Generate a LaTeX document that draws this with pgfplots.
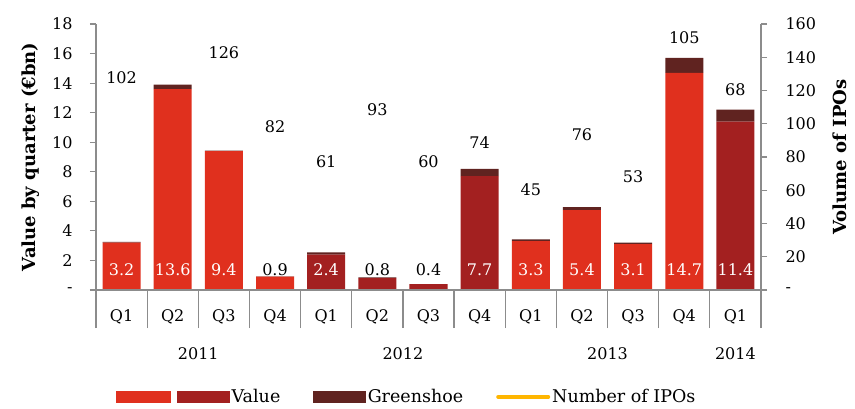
\documentclass[border=0pt]{standalone}
\usepackage{pgfplots}
\pgfplotsset{compat=1.18}
\usepackage{pgfplotstable}
\usepackage{fontspec}
\setmainfont{DejaVu Serif}
\definecolor{pwcred}{HTML}{E0301E}
\definecolor{pwcdark}{HTML}{A32020}
\definecolor{pwcgreen}{HTML}{602320}
\definecolor{pwcyellow}{HTML}{FFB600}
\definecolor{axgray}{HTML}{8C8C8C}
\newcommand\tfont{\fontsize{16}{19}\selectfont}
\newcommand\lfont{\fontsize{18}{21}\selectfont}
\newcommand\gfont{\fontsize{17.5}{21}\selectfont}

\pgfplotstableread{
x light dark green
0 3.2 0 0.05
1 13.6 0 0.3
2 9.4 0 0.03
3 0.9 0 0.02
4 0 2.4 0.15
5 0 0.8 0.05
6 0 0.4 0.0
7 0 7.7 0.5
8 3.3 0 0.12
9 5.4 0 0.2
10 3.1 0 0.1
11 14.7 0 1.0
12 0 11.4 0.8
}\valtable

\pgfplotstableread{
x ipo laby
0 102 127.7
1 149 165.4
2 126 142.7
3 82 98.2
4 61 77.2
5 93 108.3
6 60 77.2
7 74 88.4
8 45 60.2
9 76 93.2
10 53 68.2
11 105 151.6
12 68 120.3
}\ipotable

\pgfplotstableread{
x lab y
0 3.2 12
1 13.6 12
2 9.4 12
4 2.4 12
7 7.7 12
8 3.3 12
9 5.4 12
10 3.1 12
11 14.7 12
12 11.4 12
}\whitelab

\pgfplotstableread{
x lab y
3 0.9 12
5 0.8 12
6 0.4 12
}\blacklab

\pgfplotsset{
  common/.style={
    scale only axis, width=665pt, height=266pt,
    xmin=-0.5, xmax=12.5, enlargelimits=false,
    axis line style={axgray, line width=1.2pt},
    tick align=outside,
    tick style={axgray, line width=1.2pt},
    tick label style={font=\tfont, text=black},
  }
}

\begin{document}
\begin{tikzpicture}
\useasboundingbox (-96pt,-119pt) rectangle (759pt,290pt);
% left axis with bars
\begin{axis}[
  common,
  ymin=0, ymax=18,
  ybar stacked, bar width=38pt,
  axis x line=none, axis y line*=left,
  major tick length=6pt,
  ytick={0,2,...,18},
  yticklabels={-,2,4,6,8,10,12,14,16,18},
  yticklabel style={anchor=east, xshift=-14pt},
  ylabel={Value by quarter (€bn)},
  ylabel style={at={(axis description cs:-0.099,0.5)}, anchor=center, font=\lfont\bfseries},
]
\addplot[fill=pwcred, draw=none] table[x=x,y=light]{\valtable};
\addplot[fill=pwcdark, draw=none] table[x=x,y=dark]{\valtable};
\addplot[fill=pwcgreen, draw=none] table[x=x,y=green]{\valtable};
\end{axis}
% x axis with separators and labels
\begin{axis}[
  common,
  ymin=0, ymax=1,
  axis y line=none, axis x line*=bottom,
  major tick length=38pt,
  xtick={-0.5,0.5,...,12.5},
  xticklabels={Q1,Q2,Q3,Q4,Q1,Q2,Q3,Q4,Q1,Q2,Q3,Q4,Q1,{}},
  xticklabel style={anchor=center, xshift=25.58pt, yshift=11.3pt},
  extra x ticks={1,5,9,11.5},
  extra x tick labels={2011,2012,2013,2014},
  extra x tick style={major tick length=0pt, xtick style={draw=none}, xticklabel style={yshift=-74.8pt}},
]
\addplot[draw=none, forget plot] coordinates {(0,0)};
\end{axis}
% right axis with IPO counts and labels
\begin{axis}[
  common,
  ymin=0, ymax=160,
  axis x line=none, axis y line*=right,
  major tick length=6pt,
  ytick={0,20,...,160},
  yticklabels={-,20,40,60,80,100,120,140,160},
  ylabel={Volume of IPOs},
  ylabel style={at={(axis description cs:1.118,0.5)}, anchor=center, font=\lfont\bfseries},
  legend columns=-1,
  legend style={draw=none, fill=none, at={(0.4675,-0.402)}, anchor=center,
    font=\gfont, /tikz/every even column/.append style={column sep=31pt}},
  every y tick label/.append style={anchor=west, xshift=15pt},
]
\addplot[draw=none, mark=none, forget plot, nodes near coords, point meta=explicit symbolic,
  every node near coord/.append style={anchor=center, font=\tfont, text=black}]
  table[x=x, y=laby, meta=ipo]{\ipotable};
\addplot[draw=none, mark=none, forget plot, nodes near coords, point meta=explicit symbolic,
  every node near coord/.append style={anchor=center, font=\tfont, text=white}]
  table[x=x, y=y, meta=lab]{\whitelab};
\addplot[draw=none, mark=none, forget plot, nodes near coords, point meta=explicit symbolic,
  every node near coord/.append style={anchor=center, font=\tfont, text=black}]
  table[x=x, y=y, meta=lab]{\blacklab};
\addlegendimage{legend image code/.code={\fill[pwcred] (0pt,-5.5pt) rectangle (54pt,5.5pt); \fill[pwcdark] (61pt,-5.5pt) rectangle (113pt,5.5pt);}}
\addlegendentry{Value}
\addlegendimage{legend image code/.code={\fill[pwcgreen] (0pt,-5.5pt) rectangle (52pt,5.5pt);}}
\addlegendentry{Greenshoe}
\addlegendimage{legend image code/.code={\draw[pwcyellow, line width=4pt, line cap=round] (2pt,0pt) -- (52pt,0pt);}}
\addlegendentry{Number of IPOs}
\end{axis}
\end{tikzpicture}
\end{document}
